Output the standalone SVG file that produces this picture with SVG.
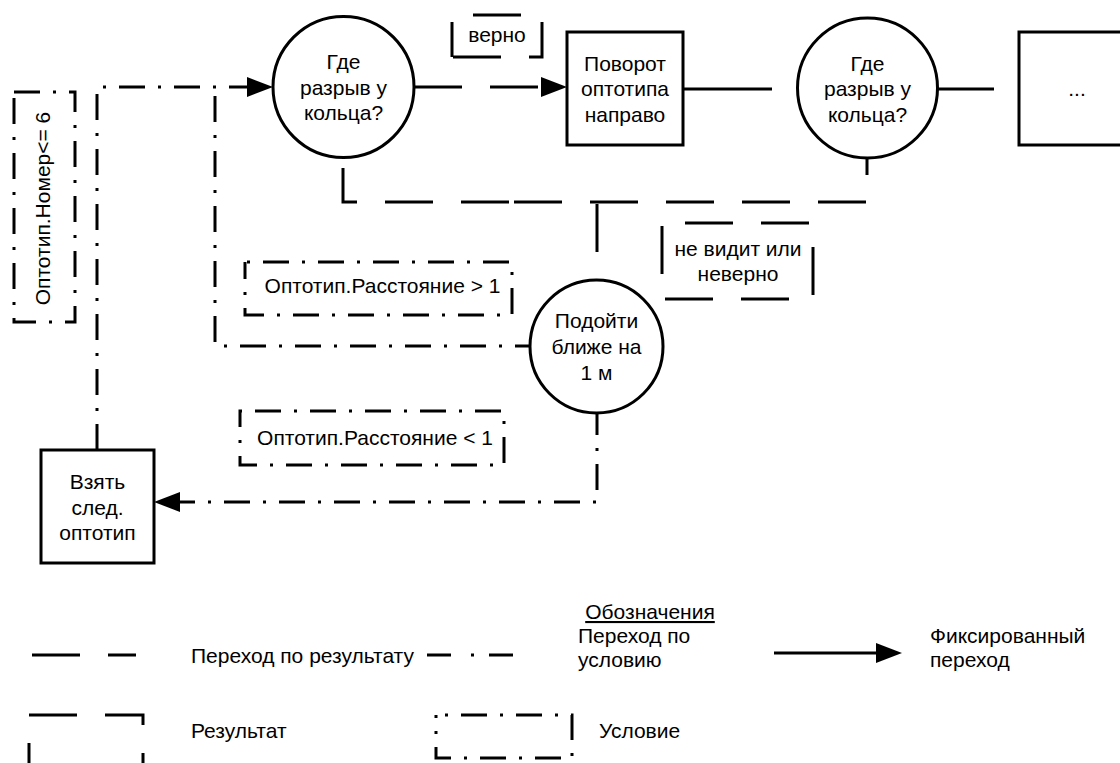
<svg xmlns="http://www.w3.org/2000/svg" width="1120" height="763" viewBox="0 0 1120 763">
<style>
.bg{fill:#fff}
.node{fill:#fff;stroke:#000;stroke-width:3}
.t{font-family:"Liberation Sans",Arial,sans-serif;font-size:21px;fill:#000}
.c{text-anchor:middle}
.solid{fill:none;stroke:#000;stroke-width:3}
.res{fill:none;stroke:#000;stroke-width:3;stroke-dasharray:48 28}
.cond{fill:none;stroke:#000;stroke-width:3;stroke-dasharray:26 13 3 13}
.lbl{fill:#fff;stroke:#000;stroke-width:3}
</style>
<defs>
<marker id="arr" markerUnits="userSpaceOnUse" orient="auto" refX="0" refY="0" markerWidth="30" markerHeight="24" viewBox="0 -12 30 24" overflow="visible">
<path d="M0,-10 L26,0 L0,10 Z" fill="#000" stroke="none"/>
</marker>
</defs>
<rect class="bg" x="0" y="0" width="1120" height="763"/>

<g id="connectors">
<path class="cond" d="M97,450 V87 H247" marker-end="url(#arr)"/>
<path class="cond" d="M530,346 H215 V87" stroke-dashoffset="11"/>
<path class="cond" d="M597,413 V502 H180" stroke-dashoffset="4" marker-end="url(#arr)"/>
<path class="res" d="M414,87 H541" marker-end="url(#arr)"/>
<path class="solid" d="M679,89 H772"/>
<path class="solid" d="M938,89 H994"/>
<path class="res" d="M343,157 V202 H512" stroke-dashoffset="65"/>
<path class="res" d="M867,158 V202 H512" stroke-dashoffset="31"/>
<path class="res" d="M597,280 V202" stroke-dashoffset="48"/>
</g>

<g id="node-ring1">
<circle class="node" cx="343.5" cy="87" r="70.5"/>
<text class="t c" x="343.5" y="69">Где</text>
<text class="t c" x="343.5" y="94.5">разрыв у</text>
<text class="t c" x="343.5" y="120">кольца?</text>
</g>

<g id="node-rotate">
<rect class="node" x="567" y="32" width="116" height="113"/>
<text class="t c" x="625" y="70.5">Поворот</text>
<text class="t c" x="625" y="96">оптотипа</text>
<text class="t c" x="625" y="121.5">направо</text>
</g>

<g id="node-ring2">
<circle class="node" cx="867.5" cy="88" r="70"/>
<text class="t c" x="867.5" y="70.5">Где</text>
<text class="t c" x="867.5" y="96">разрыв у</text>
<text class="t c" x="867.5" y="121.5">кольца?</text>
</g>

<g id="node-more">
<rect class="node" x="1019" y="32" width="116" height="113"/>
<text class="t c" x="1077" y="96">...</text>
</g>

<g id="node-closer">
<circle class="node" cx="596.5" cy="346.5" r="66.5"/>
<text class="t c" x="596.5" y="328">Подойти</text>
<text class="t c" x="596.5" y="354">ближе на</text>
<text class="t c" x="596.5" y="379.5">1 м</text>
</g>

<g id="node-next">
<rect class="node" x="41" y="450" width="113" height="113"/>
<text class="t c" x="97.5" y="489">Взять</text>
<text class="t c" x="97.5" y="514.5">след.</text>
<text class="t c" x="97.5" y="540">оптотип</text>
</g>

<g id="label-verno">
<path class="res" d="M452,57 V15 H542 V57 Z" stroke-dashoffset="13"/>
<text class="t c" x="497" y="42">верно</text>
</g>

<g id="label-nevidit">
<rect class="res" x="662" y="223" width="151" height="76" stroke-dashoffset="53"/>
<text class="t c" x="738" y="256">не видит или</text>
<text class="t c" x="738" y="281">неверно</text>
</g>

<g id="label-nomer">
<rect class="cond" x="14" y="92" width="61" height="230"/>
<text class="t c" transform="translate(50,208.5) rotate(-90)" x="0" y="0">Оптотип.Номер&lt;= 6</text>
</g>

<g id="label-gt1">
<rect class="cond" x="245" y="262" width="267" height="53" stroke-dashoffset="37"/>
<text class="t c" x="382.5" y="293">Оптотип.Расстояние &gt; 1</text>
</g>

<g id="label-lt1">
<rect class="cond" x="240" y="411" width="264" height="54" stroke-dashoffset="40"/>
<text class="t c" x="375" y="445">Оптотип.Расстояние &lt; 1</text>
</g>

<g id="legend">
<text class="t c" x="650" y="619" text-decoration="underline">Обозначения</text>
<path class="res" d="M32,655 H136"/>
<text class="t" x="191" y="663">Переход по результату</text>
<path class="cond" d="M427,655 H533" style="stroke-dasharray:24 20 3 15"/>
<text class="t" x="578" y="643">Переход по</text>
<text class="t" x="578" y="667">условию</text>
<path class="solid" d="M774,653 H876" marker-end="url(#arr)"/>
<text class="t" x="930" y="643">Фиксированный</text>
<text class="t" x="930" y="667">переход</text>
<rect class="res" x="29" y="715" width="114" height="76"/>
<text class="t" x="191" y="738">Результат</text>
<rect class="cond" x="436" y="715" width="136" height="43" stroke-dashoffset="30"/>
<text class="t" x="599" y="738">Условие</text>
</g>
</svg>
